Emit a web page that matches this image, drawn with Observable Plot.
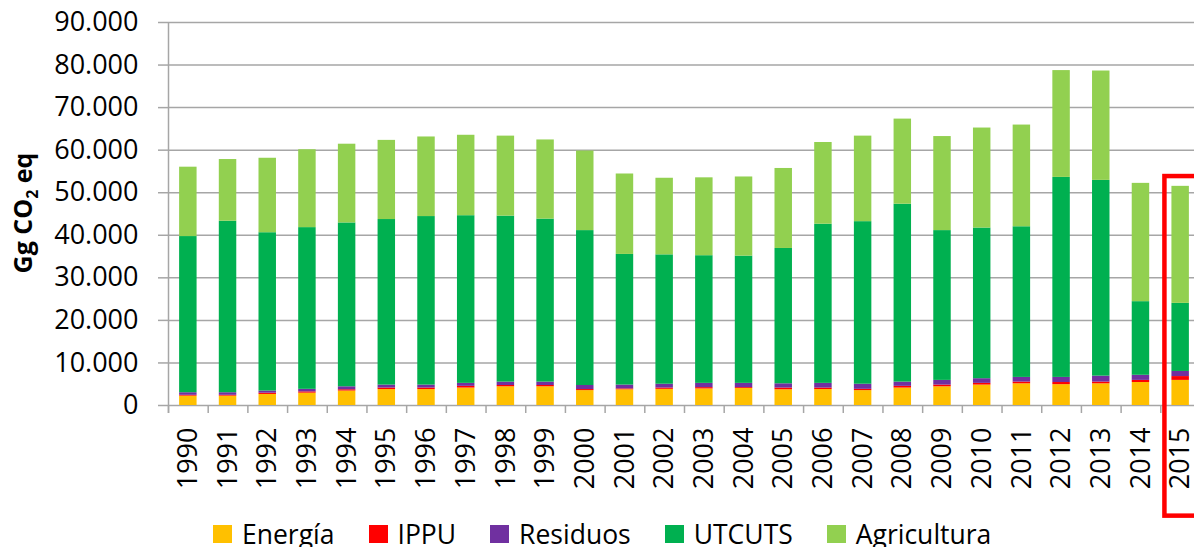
<!DOCTYPE html>
<html><head><meta charset="utf-8">
<script src="https://cdn.jsdelivr.net/npm/d3@7"></script>
<script src="https://cdn.jsdelivr.net/npm/@observablehq/plot@0.6"></script>
<style>
html,body{margin:0;padding:0;background:#fff;}
body{width:1194px;font-family:"Open Sans",sans-serif;}
#legend{display:flex;align-items:center;height:26px;margin-top:-3px;padding-left:213px;font-size:26.5px;color:#000;line-height:26px;}
.item{display:flex;align-items:center;margin-right:34px;}
.sw{width:19px;height:18px;margin-right:10px;}
</style></head>
<body><div id="chart"></div><div id="legend"></div>
<script>
const years = ["1990","1991","1992","1993","1994","1995","1996","1997","1998","1999","2000","2001","2002","2003","2004","2005","2006","2007","2008","2009","2010","2011","2012","2013","2014","2015"];
const seriesNames = ["Energía","IPPU","Residuos","UTCUTS","Agricultura"];
const seriesColors = ["#FFC000","#FF0000","#7030A0","#00B050","#92D050"];
const energia = [2200,2200,2600,2900,3400,3750,3750,4100,4400,4400,3500,3700,3800,3900,4000,3700,3750,3500,4100,4400,4800,5100,4900,5100,5400,5900];
const ippu = [200,200,300,300,300,350,350,400,300,300,250,200,300,300,200,400,350,300,400,400,400,400,500,400,500,900];
const residuos = [600,600,500,600,700,700,700,700,800,800,950,900,900,1000,1000,1000,1100,1200,1000,1100,1100,1100,1200,1400,1200,1200];
const utcuts = [36700,40300,37200,38000,38500,38900,39600,39400,39000,38300,36400,30700,30400,30000,29900,31800,37400,38200,41800,35200,35400,35400,47000,46000,17300,16000];
const agricultura = [16300,14500,17500,18300,18500,18600,18700,18900,18800,18600,18700,18900,18000,18300,18600,18800,19200,20100,20000,22100,23500,23900,25100,25700,27800,27500];
const yTicks = [0,10000,20000,30000,40000,50000,60000,70000,80000,90000];
const highlight = [{year:"2015", top:53800, bottom:-26000}];

const values = [energia, ippu, residuos, utcuts, agricultura];
const data = [];
years.forEach((y,i)=>seriesNames.forEach((s,j)=>data.push({year:y, serie:s, value:values[j][i]})));

const fmt = d3.formatLocale({decimal:",", thousands:".", grouping:[3], currency:["",""]}).format(",");
const W = 1194, H = 524, ML = 168, MT = 22, MB = 119;
const xRange = [168, 1200];
const step = (xRange[1]-xRange[0])/years.length;
const grid = "#a6a6a6";

const chart = Plot.plot({
  width: W, height: H,
  marginLeft: ML, marginRight: 0, marginTop: MT, marginBottom: MB,
  style: {fontFamily: "Open Sans, sans-serif", background: "#fff", color: "#000", overflow: "visible"},
  x: {domain: years, range: xRange, paddingInner: 0.56, paddingOuter: 0.28, align: 0.5, round: false},
  y: {domain: [0, 90000]},
  color: {domain: seriesNames, range: seriesColors},
  marks: [
    Plot.gridY(yTicks, {stroke: grid, strokeOpacity: 1, strokeWidth: 1.5}),
    Plot.axisY(yTicks, {tickSize: 10, tickPadding: 20, tickFormat: fmt, fontSize: 27, stroke: grid, strokeWidth: 1.5, label: null}),
    Plot.ruleX(years, {x: d => d, dx: -step/2, y1: 0, y2: 0, insetBottom: -8, stroke: grid, strokeWidth: 1.5}),
    Plot.ruleX([years[0]], {x: d => d, dx: -step/2, y1: 90000, y2: 0, insetBottom: -8, stroke: grid, strokeWidth: 1.5}),
    Plot.axisX({tickSize: 0, tickPadding: 22, tickRotate: -90, fontSize: 27, label: null}),
    Plot.barY(data, Plot.stackY({order: seriesNames}, {x: "year", y: "value", fill: "serie"})),
    Plot.barY(highlight, {x: "year", y1: "top", y2: "bottom", fill: "none", stroke: "#FF0000", strokeWidth: 4.5, insetLeft: -7, insetRight: -30})
  ]
});
document.getElementById("chart").appendChild(chart);

const svg = d3.select(chart.tagName.toLowerCase()==="svg" ? chart : chart.querySelector("svg"));
const t = svg.append("text")
  .attr("transform", "translate(32,213) rotate(-90)")
  .attr("text-anchor", "middle")
  .attr("font-family", "Open Sans, sans-serif")
  .attr("font-weight", "bold")
  .attr("font-size", 25)
  .attr("fill", "#000");
t.append("tspan").text("Gg CO");
t.append("tspan").attr("font-size", 16).attr("dy", 6).text("2");
t.append("tspan").attr("dy", -6).text(" eq");

const legend = d3.select("#legend");
seriesNames.forEach((s,i)=>{
  const it = legend.append("div").attr("class","item");
  it.append("div").attr("class","sw").style("background", seriesColors[i]);
  it.append("span").text(s);
});
</script>
</body></html>
